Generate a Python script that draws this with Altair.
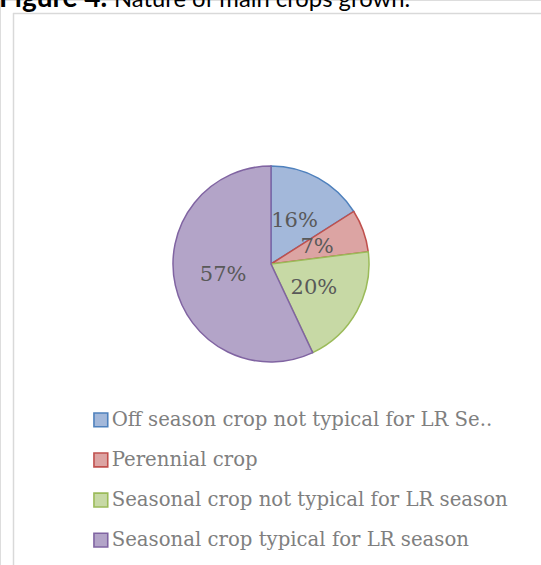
import altair as alt
import pandas as pd

# ---- data ----
categories = [
    "Off season crop not typical for LR Se..",
    "Perennial crop",
    "Seasonal crop not typical for LR season",
    "Seasonal crop typical for LR season",
]
values = [16, 7, 20, 57]
labels = ["16%", "7%", "20%", "57%"]
order = [0, 1, 2, 3]

title_bold = ["Figure 4."]
title_rest = ["Nature of main crops grown."]

fills = ["#a3b8da", "#dca4a3", "#c7d9a5", "#b3a4c8"]
strokes = ["#4f81bd", "#c0504d", "#9bbb59", "#8064a2"]

df = pd.DataFrame({"category": categories, "value": values, "label": labels, "idx": order})

CX, CY, R = 271, 264, 98

legend = alt.Legend(
    title=None,
    orient="none",
    legendX=91,
    legendY=410,
    symbolType="square",
    symbolSize=190,
    symbolStrokeWidth=1.6,
    labelFont="DejaVu Serif",
    labelFontSize=19.7,
    labelColor="#7f7f7f",
    labelLimit=600,
    labelOffset=1,
    rowPadding=19.1,
)

base = alt.Chart(df).encode(
    theta=alt.Theta("value:Q", stack=True),
    order=alt.Order("idx:Q"),
)

arcs = base.mark_arc(outerRadius=R, strokeWidth=1.5).encode(
    x=alt.value(CX),
    y=alt.value(CY),
    fill=alt.Fill("category:N", scale=alt.Scale(domain=categories, range=fills), legend=legend, sort=categories),
    stroke=alt.Stroke("category:N", scale=alt.Scale(domain=categories, range=strokes), legend=legend, sort=categories),
)

texts = base.mark_text(radius=49, font="DejaVu Serif", fontSize=21, color="#595959").encode(
    x=alt.value(CX),
    y=alt.value(CY),
    text="label:N",
)

frame_df = pd.DataFrame({"k": [0]})
frame_left = alt.Chart(frame_df).mark_rule(color="#d9d9d9", strokeWidth=1.5).encode(
    x=alt.value(13.5), y=alt.value(13), y2=alt.value(565)
)
frame_top = alt.Chart(frame_df).mark_rule(color="#d9d9d9", strokeWidth=1.5).encode(
    x=alt.value(13), x2=alt.value(541), y=alt.value(13.5)
)

t1 = alt.Chart(pd.DataFrame({"t": title_bold})).mark_text(
    font="Lato", fontSize=28, fontWeight="bold", align="left", baseline="alphabetic", color="#000000"
).encode(text="t:N", x=alt.value(-1), y=alt.value(7))
t2 = alt.Chart(pd.DataFrame({"t": title_rest})).mark_text(
    font="Lato", fontSize=23.8, align="left", baseline="alphabetic", color="#000000"
).encode(text="t:N", x=alt.value(114), y=alt.value(7))

chart = alt.layer(frame_left, frame_top, t1, t2, arcs, texts).properties(
    width=541, height=565, autosize=alt.AutoSizeParams(type="none"), padding=0
).configure_view(stroke=None).configure(background="white")

chart.save("out.html", embed_options={"renderer": "svg", "actions": False})
